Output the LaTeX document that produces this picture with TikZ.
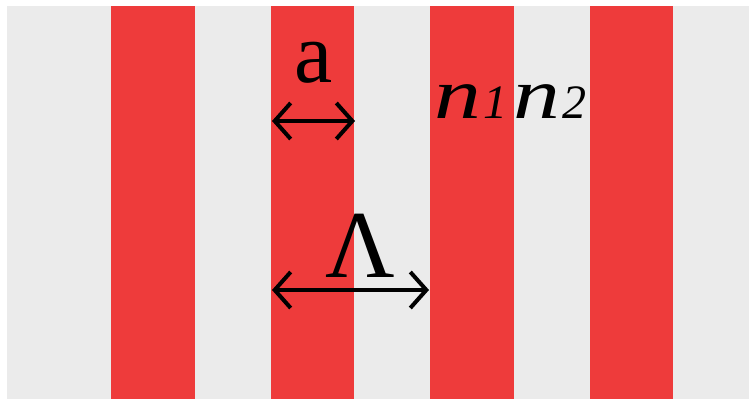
\documentclass[tikz,border=0pt]{standalone}
\usepackage{fontspec}
\setmainfont{Liberation Serif}
\usepackage{graphicx}
\usetikzlibrary{arrows.meta}
\definecolor{stripered}{HTML}{EE3B3B}
\definecolor{bggray}{HTML}{EBEBEB}
\tikzset{
  stripe/.style={fill=stripered, draw=none},
  dimarrow/.style={line width=4pt, {Straight Barb[length=16pt,width=36pt]}-{Straight Barb[length=16pt,width=36pt]}},
  lbl/.style={inner sep=0pt, text=black}
}
\newcommand{\nlabel}[1]{{\fontsize{72}{72}\selectfont\itshape\scalebox{1.3}[1]{n}\kern2pt\fontsize{48}{48}\selectfont #1}}
\begin{document}
\begin{tikzpicture}[x=1pt,y=-1pt]
\useasboundingbox (0,0) rectangle (749,399);
\fill[white] (0,0) rectangle (749,399);
\fill[bggray] (7,6) rectangle (749,399);
\foreach \xa/\xb in {111/195, 271/354, 430/514, 590/673}
  \fill[stripe] (\xa,6) rectangle (\xb,399);
% labels
\node[lbl, anchor=base] (a) at (314,82) {\fontsize{86}{86}\selectfont a};
\node[lbl, anchor=base west] (n1) at (434,118) {\nlabel{1}};
\node[lbl, anchor=base west] (n2) at (513,118) {\nlabel{2}};
\node[lbl, anchor=base] (L) at (360,277) {\fontsize{96}{96}\selectfont Λ};
% arrows
\coordinate (a1) at (272,121);
\coordinate (a2) at (355,121);
\coordinate (L1) at (272,290);
\coordinate (L2) at (429,290);
\draw[dimarrow] (a1) -- (a2);
\draw[dimarrow] (L1) -- (L2);
\end{tikzpicture}
\end{document}
